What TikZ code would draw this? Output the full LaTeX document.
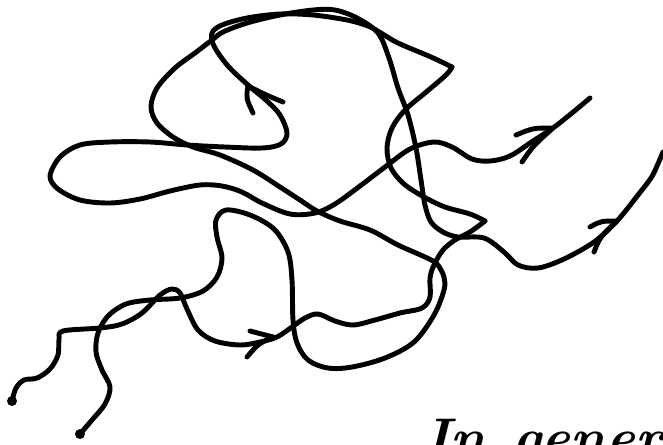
\documentclass[tikz,border=0pt]{standalone}
\usepackage{tikz}

\begin{document}
\begin{tikzpicture}[
  x=0.02cm, y=-0.02cm,
  scribble/.style={line width=2.8pt, line cap=round, line join=round},
  barb/.style={scribble},
  startdot/.style={fill=black},
  hand/.style={font=\fontsize{31}{33}\selectfont\bfseries\itshape,
               inner sep=0pt, anchor=base west}
]
\useasboundingbox (0,0) rectangle (663,444);
\clip (0,0) rectangle (663,444);

% ends of the two paths
\coordinate (startA) at (12,401);
\coordinate (startB) at (80,434);
\coordinate (endA)   at (590,98);
\coordinate (endB)   at (663,152);
\coordinate (cornerL) at (485,221);
\coordinate (cornerU) at (452,67);

\fill[startdot] (startA) circle (5);
\fill[startdot] (startB) circle (5);

% first path
\draw[scribble] plot[smooth, tension=0.55] coordinates {
  (startA) (16,388) (24,380) (37,378) (50,369) (58,355) (59,340) (63,331)
  (100,328) (122,324) (142,313) (160,295) (172,289) (180,293) (187,309)
  (198,330) (215,341) (240,345) (260,342) (277,337) (292,327) (305,318)
  (318,314) (335,321) (353,325) (375,320) (400,313) (422,308) (430,297)
  (430,278) (434,265) (443,250) (455,240) (470,232) (cornerL)};
\draw[scribble] plot[smooth, tension=0.55] coordinates {
  (cornerL) (470,214) (445,207) (424,197) (404,184) (391,168) (387,148)
  (392,128) (405,110) (425,93) (446,75) (cornerU)};
\draw[scribble] plot[smooth, tension=0.55] coordinates {
  (cornerU) (431,57) (398,43) (381,33) (368,26) (347,20) (313,15) (280,14)
  (247,18) (222,25) (212,33) (214,46) (228,66) (248,85) (267,101) (280,115)
  (287,133) (281,144) (262,148) (225,147) (187,145) (150,142) (110,142)
  (80,145) (60,157) (50,176) (58,189) (80,200) (110,203) (140,199)
  (170,191) (200,185) (222,186) (242,192) (262,203) (290,214) (315,213)
  (335,204) (360,186) (385,167) (410,149) (434,142) (452,147) (472,159)
  (490,161) (510,156) (533,141) (553,128) (572,113) (endA)};

% second path
\draw[scribble] plot[smooth, tension=0.55] coordinates {
  (startB) (92,420) (105,404) (110,387) (102,370) (96,352) (98,333)
  (108,316) (126,304) (150,300) (180,298) (203,291) (217,277) (222,258)
  (217,237) (216,220) (226,210) (250,215) (274,229) (288,252) (292,280)
  (293,320) (297,343) (308,360) (328,368) (352,367) (385,358) (414,342)
  (434,315) (444,290) (444,277) (437,264) (425,257) (398,245) (370,230)
  (340,221) (317,211) (300,200) (280,187) (253,170) (220,155) (193,147)
  (173,137) (157,123) (151,107) (157,88) (175,68) (195,53) (212,40)
  (223,32) (247,23) (280,15) (313,10) (335,10) (357,18) (378,33) (389,58)
  (398,88) (408,115) (416,148) (421,180) (425,205) (431,222) (443,232)
  (458,237) (484,238) (504,252) (518,265) (538,268) (564,259) (594,242)
  (617,221) (638,195) (651,178) (657,166) (endB)};

% arrow heads
\coordinate (tipUL) at (248,86);
\coordinate (tipLL) at (273,337);
\coordinate (tipUR) at (553,128);
\coordinate (tipLR) at (617,221);
\draw[barb] (tipUL) .. controls (246,98) .. (253,113);
\draw[barb] (tipUL) .. controls (266,95) .. (283,102);
\draw[barb] (tipLL) .. controls (262,334) .. (250,331);
\draw[barb] (tipLL) .. controls (258,344) .. (247,357);
\draw[barb] (tipUR) .. controls (533,128) .. (516,135);
\draw[barb] (tipUR) .. controls (533,146) .. (522,162);
\draw[barb] (tipLR) .. controls (601,221) .. (590,227);
\draw[barb] (tipLR) .. controls (600,237) .. (594,252);

% handwriting, cut by the lower edge
\node[hand] (note) at (424,456) {In\hspace{0.55cm}genera};

\end{tikzpicture}
\end{document}
